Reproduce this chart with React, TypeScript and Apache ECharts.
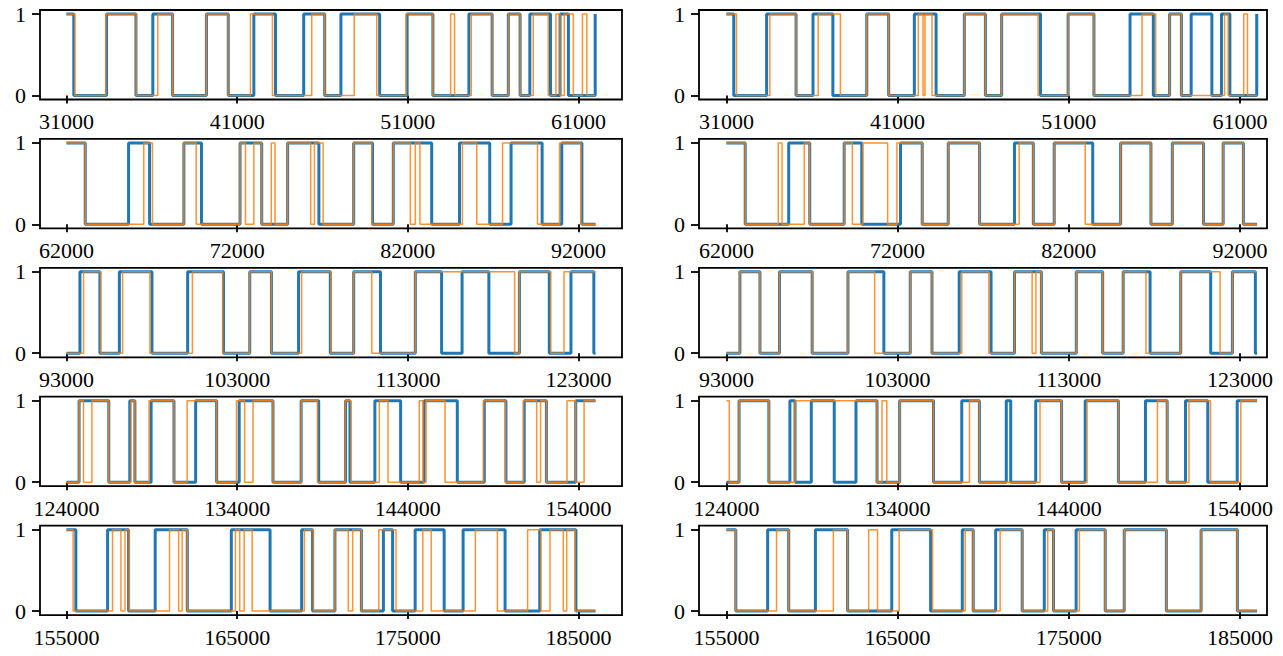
import React, { useEffect, useRef } from "react";
import * as echarts from "echarts";

// ---- data ----
const rowStarts = [31000, 62000, 93000, 124000, 155000];
const rowEnds = [62000, 93000, 124000, 155000, 186000];
const tickOffsets = [0, 10000, 20000, 30000];
const yTicks = [0, 1];

// blue signal (shared by both columns of a row): start value + switch points
const blueStart = [1, 1, 0, 0, 1];
const blueRow1 = [31430, 33350, 35070, 36060, 37220, 39200, 40480, 41980, 43250, 44900, 46130, 47080, 49350, 50960, 52470, 54580, 55940, 56890, 57580, 58150, 59360, 59920, 60410, 61980];
const blueRow2 = [63100, 65640, 66870, 68880, 69910, 72170, 73440, 74960, 76790, 78830, 79930, 81150, 83400, 85030, 86800, 88050, 89870, 91020, 92200];
const blueRow3 = [93790, 94960, 96100, 98010, 100100, 102200, 103740, 105010, 106600, 108460, 109830, 111400, 113440, 114980, 116180, 117750, 119540, 121290, 122560, 123900];
const blueRow4 = [124740, 126480, 127710, 128010, 128960, 130300, 131570, 132800, 134120, 136100, 137750, 138780, 140350, 140610, 142070, 143580, 144960, 146900, 148480, 149750, 150820, 152120, 153840];
const blueRow5 = [155550, 157410, 158640, 160200, 162080, 164660, 166930, 168780, 169420, 170730, 172280, 173570, 174110, 175430, 177130, 178240, 180700, 182730, 184850];

// orange signal, left column
const orangeLeftStart = [1, 1, 0, 0, 1];
const orangeLeft1 = [31490, 33310, 35080, 36350, 37230, 39190, 40470, 41780, 43070, 45370, 46130, 47860, 49180, 50900, 52470, 53510, 53740, 54720, 55940, 56890, 57580, 58350, 59230, 59680, 59920, 60170, 60700, 61230, 61490];
const orangeLeft2 = [63100, 66530, 67040, 68880, 69600, 72170, 72490, 72980, 73440, 74000, 74220, 74960, 76310, 76530, 77040, 78830, 79890, 81150, 82150, 82440, 82710, 85200, 86040, 87550, 89600, 90890, 92150];
const orangeLeft3 = [94000, 95000, 96290, 97890, 100380, 102150, 103740, 105010, 106780, 108490, 109830, 110890, 113440, 119260, 119540, 121380, 122150];
const orangeLeft4 = [124740, 125000, 125490, 126480, 127780, 128010, 128840, 130300, 131070, 132800, 133960, 134440, 134930, 136100, 137750, 138710, 140330, 140670, 142330, 142840, 144670, 144890, 145070, 146180, 148440, 149730, 150780, 151550, 151780, 152120, 153330, 153840, 154330];
const orangeLeft5 = [155390, 157700, 158190, 158430, 158680, 161040, 161570, 161780, 162080, 164900, 165150, 165410, 165880, 168940, 169470, 170730, 171510, 171770, 172280, 173300, 174310, 175880, 176370, 178960, 180250, 182020, 182800, 183330, 184110, 184310, 184800];

// orange signal, right column
const orangeRightStart = [1, 1, 0, 1, 1];
const orangeRight1 = [31590, 33540, 35070, 36360, 37660, 39200, 40480, 42210, 42490, 42600, 43010, 44900, 46130, 47080, 49210, 50960, 52470, 55280, 56080, 56890, 57580, 60100, 60310, 61220, 61440];
const orangeRight2 = [63100, 65030, 65250, 66550, 66870, 68880, 69360, 69970, 71420, 71960, 73440, 74960, 76790, 79100, 79930, 81150, 82960, 85030, 86800, 88050, 89870, 91020, 92200];
const orangeRight3 = [93790, 94960, 96100, 98010, 100100, 101660, 103740, 105010, 106750, 108330, 109830, 110860, 111080, 111400, 113440, 114980, 116180, 117510, 119540, 121840, 122560];
const orangeRight4 = [124170, 124740, 126480, 128010, 132800, 133090, 133370, 134130, 136100, 138200, 138780, 142320, 143580, 145070, 146900, 149180, 149750, 151020, 152280, 154050];
const orangeRight5 = [155550, 157930, 158640, 161250, 162080, 163310, 163830, 165090, 167040, 168950, 169420, 170990, 172280, 173770, 174110, 175620, 177130, 178240, 180700, 182730, 184850];

const blueRows = [blueRow1, blueRow2, blueRow3, blueRow4, blueRow5];
const orangeLeftRows = [orangeLeft1, orangeLeft2, orangeLeft3, orangeLeft4, orangeLeft5];
const orangeRightRows = [orangeRight1, orangeRight2, orangeRight3, orangeRight4, orangeRight5];

const BLUE = "#1f77b4";
const ORANGE = "#ff7f0e";
const FONT = "'Liberation Serif', 'Times New Roman', serif";

function steps(start: number, switches: number[], x0: number, x1: number) {
  const pts: [number, number][] = [[x0, start]];
  let v = start;
  for (const t of switches) {
    v = 1 - v;
    pts.push([t, v]);
  }
  pts.push([x1, v]);
  return pts;
}

function buildOption() {
  const grids: any[] = [];
  const xAxes: any[] = [];
  const yAxes: any[] = [];
  const series: any[] = [];
  let idx = 0;
  for (let r = 0; r < 5; r++) {
    for (let c = 0; c < 2; c++) {
      const top = 10 + 128.9 * r;
      const left = c === 0 ? 40 : 699;
      const width = c === 0 ? 582 : 568;
      grids.push({
        left,
        top,
        width,
        height: 89.5,
        show: true,
        borderColor: "#000",
        borderWidth: 1.8,
        backgroundColor: "transparent",
        containLabel: false,
      });
      const s = rowStarts[r];
      const ticks = tickOffsets.map((o) => s + o);
      xAxes.push({
        type: "value",
        gridIndex: idx,
        min: c === 0 ? s - 1550 : s - 1600,
        max: c === 0 ? s + 32550 : s + 31580,
        position: "bottom",
        axisLine: { show: false },
        axisTick: {
          show: true,
          customValues: ticks,
          length: 8,
          lineStyle: { color: "#000", width: 1.8 },
        },
        axisLabel: {
          show: true,
          customValues: ticks,
          margin: 11,
          color: "#000",
          fontFamily: FONT,
          fontSize: 22,
          formatter: (v: number) => String(v),
        },
        splitLine: { show: false },
      });
      yAxes.push({
        type: "value",
        gridIndex: idx,
        min: -0.05,
        max: 1.05,
        axisLine: { show: false },
        axisTick: {
          show: true,
          customValues: yTicks,
          length: 8,
          lineStyle: { color: "#000", width: 1.8 },
        },
        axisLabel: {
          show: true,
          customValues: yTicks,
          margin: 14,
          color: "#000",
          fontFamily: FONT,
          fontSize: 22,
          formatter: (v: number) => String(v),
        },
        splitLine: { show: false },
      });
      const x0 = rowStarts[r];
      const x1 = rowEnds[r];
      series.push({
        type: "line",
        xAxisIndex: idx,
        yAxisIndex: idx,
        step: "end",
        showSymbol: false,
        symbol: "none",
        data: steps(blueStart[r], blueRows[r], x0, x1),
        lineStyle: { color: BLUE, width: 3 },
        itemStyle: { color: BLUE },
        z: 2,
      });
      const oStart = c === 0 ? orangeLeftStart[r] : orangeRightStart[r];
      const oRow = c === 0 ? orangeLeftRows[r] : orangeRightRows[r];
      series.push({
        type: "line",
        xAxisIndex: idx,
        yAxisIndex: idx,
        step: "end",
        showSymbol: false,
        symbol: "none",
        data: steps(oStart, oRow, x0, x1),
        lineStyle: { color: ORANGE, width: 1.5, opacity: 0.85 },
        itemStyle: { color: ORANGE },
        z: 3,
      });
      idx++;
    }
  }
  return {
    animation: false,
    backgroundColor: "#fff",
    grid: grids,
    xAxis: xAxes,
    yAxis: yAxes,
    series,
  };
}

export default function App() {
  const ref = useRef<HTMLDivElement | null>(null);
  useEffect(() => {
    if (!ref.current) return;
    const chart = echarts.init(ref.current, undefined, { renderer: "svg" });
    chart.setOption(buildOption() as any);
    return () => chart.dispose();
  }, []);
  return (
    <div
      ref={ref}
      style={{ position: "fixed", left: 0, top: 0, width: 1283, height: 656, background: "#fff" }}
    />
  );
}
